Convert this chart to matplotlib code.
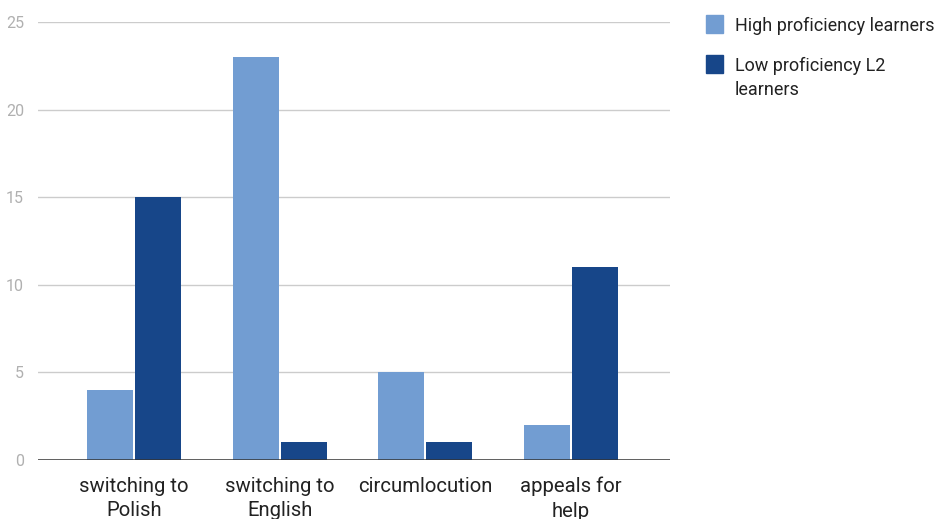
import numpy as np
import matplotlib.pyplot as plt
from matplotlib.patches import Rectangle

categories = ['switching to\nPolish', 'switching to\nEnglish', 'circumlocution', 'appeals for\nhelp']
high = [4, 23, 5, 2]
low = [15, 1, 1, 11]
series_names = ['High proficiency learners', 'Low proficiency L2\nlearners']
colors = ['#729dd2', '#174689']

plt.rcParams['font.family'] = ['Roboto', 'DejaVu Sans']

W, H = 942, 519
fig = plt.figure(figsize=(W / 100, H / 100), dpi=100)
ax = fig.add_axes([0.0403, 0.1137, 0.6709, 0.8439])

x = np.arange(len(categories))
w = 0.315
gap = 0.007
ax.bar(x - w / 2 - gap, high, w, color=colors[0], zorder=3)
ax.bar(x + w / 2 + gap, low, w, color=colors[1], zorder=3)

ax.set_xlim(-0.66, 3.68)
ax.set_ylim(0, 25)
ax.set_yticks([0, 5, 10, 15, 20, 25])
ax.yaxis.grid(True, color='#cccccc', lw=1)
ax.axhline(0, color='#333333', lw=1.8, zorder=4)
for s in ax.spines.values():
    s.set_visible(False)
ax.tick_params(axis='y', length=0, labelsize=11.5, labelcolor='#b0b0b0', pad=10)
ax.tick_params(axis='x', length=0, labelsize=14.6, labelcolor='#222222', pad=12)
ax.set_xticks(x)
ax.set_xticklabels(categories, linespacing=1.37)

# legend, drawn by hand so the swatch sits on the first line of a wrapped label
leg_y = [24, 64]
for name, c, yy in zip(series_names, colors, leg_y):
    fig.patches.append(Rectangle((706 / W, 1 - (yy + 9) / H), 17 / W, 18 / H,
                                 transform=fig.transFigure, color=c))
    fig.text(735 / W, 1 - (yy - 7) / H, name, fontsize=13, color='#222222',
             va='top', ha='left', linespacing=1.45)

fig.savefig('out.png', dpi=100)
